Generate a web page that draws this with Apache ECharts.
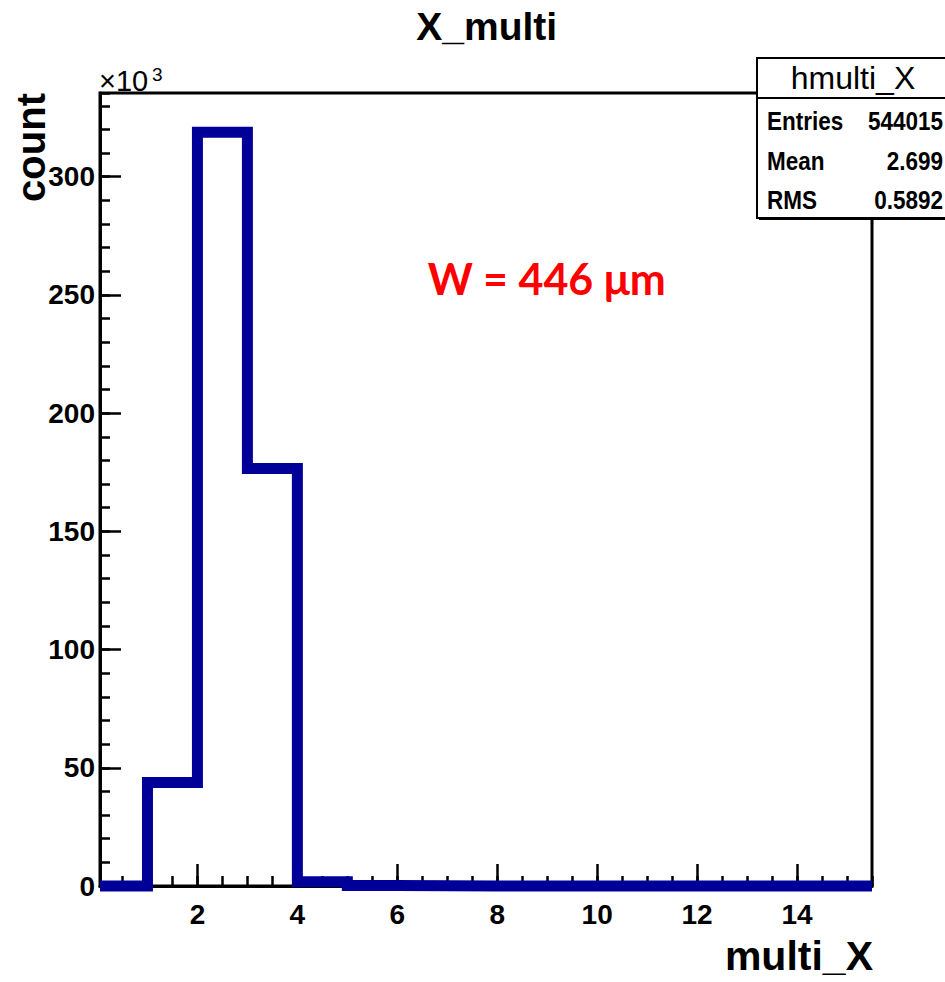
<!DOCTYPE html>
<html>
<head>
<meta charset="utf-8">
<script src="https://cdn.jsdelivr.net/npm/echarts@6/dist/echarts.min.js"></script>
<style>
html,body{margin:0;padding:0;background:#fff;}
#chart{width:945px;height:982px;}
</style>
</head>
<body>
<div id="chart"></div>
<script>
// ---- data (counts in units of 10^3) ----
const binLowEdges = [0, 1, 2, 3, 4, 5, 6, 7, 8, 9, 10, 11, 12, 13, 14, 15];
const binCounts   = [0, 43.8, 318.8, 176.6, 1.8, 0.2, 0.1, 0, 0, 0, 0, 0, 0, 0, 0, 0];
const xMin = 0.05, xMax = 15.5;
const yMin = 0, yMax = 335.4;
const xMajorTicks = [2, 4, 6, 8, 10, 12, 14];
const xMinorTicks = [0.5, 1, 1.5, 2, 2.5, 3, 3.5, 4, 4.5, 5, 5.5, 6, 6.5, 7, 7.5, 8, 8.5, 9, 9.5, 10, 10.5, 11, 11.5, 12, 12.5, 13, 13.5, 14, 14.5, 15, 15.5];
const statsRows = [["Entries", "544015"], ["Mean", "2.699"], ["RMS", "0.5892"]];

const FONT = "'Liberation Sans', Arial, sans-serif";

// histogram step line points
const histPts = binLowEdges.map((e, i) => [Math.max(e, xMin), binCounts[i]]);
histPts.push([xMax, binCounts[binCounts.length - 1]]);

const chart = echarts.init(document.getElementById('chart'), null, {renderer: 'svg'});

const G = {left: 100, top: 93, width: 772, height: 793};

// text helper: y is the visual centre of the text line
function txt(str, x, yc, size, weight, align, extra) {
  return Object.assign({
    type: 'text', x: x, y: yc, z: 30,
    style: {text: str, fill: '#000', font: (weight ? weight + ' ' : '') + size + 'px ' + FONT,
            align: align, verticalAlign: 'middle'}
  }, extra || {});
}

const rowCentres = [121, 161, 200];

const option = {
  animation: false,
  backgroundColor: '#fff',
  grid: {left: G.left, top: G.top, width: G.width, height: G.height, show: true,
         borderColor: '#000', borderWidth: 3, backgroundColor: 'transparent'},
  xAxis: [{
    type: 'value', min: xMin, max: xMax, position: 'bottom',
    axisLine: {show: true, onZero: false, lineStyle: {color: '#000', width: 3}},
    axisTick: {show: true, inside: true, length: 22, customValues: xMajorTicks, lineStyle: {color: '#000', width: 2.5}},
    axisLabel: {show: true, customValues: xMajorTicks, margin: 14, color: '#000',
                fontSize: 28, fontWeight: 'bold', fontFamily: FONT},
    splitLine: {show: false}
  }, {
    type: 'value', min: xMin, max: xMax, position: 'bottom',
    axisLine: {show: false, onZero: false},
    axisTick: {show: true, inside: true, length: 10, customValues: xMinorTicks, lineStyle: {color: '#000', width: 2.5}},
    axisLabel: {show: false},
    splitLine: {show: false}
  }],
  yAxis: [{
    type: 'value', min: yMin, max: yMax, interval: 50, position: 'left',
    axisLine: {show: true, onZero: false, lineStyle: {color: '#000', width: 3}},
    axisTick: {show: true, inside: true, length: 21, lineStyle: {color: '#000', width: 2.5}},
    axisLabel: {show: true, margin: 5, color: '#000', fontSize: 28, fontWeight: 'bold',
                fontFamily: FONT, showMaxLabel: false},
    splitLine: {show: false}
  }, {
    type: 'value', min: yMin, max: yMax, interval: 10, position: 'left',
    axisLine: {show: false, onZero: false},
    axisTick: {show: true, inside: true, length: 10, lineStyle: {color: '#000', width: 2.5}},
    axisLabel: {show: false},
    splitLine: {show: false}
  }],
  series: [{
    type: 'line', xAxisIndex: 0, yAxisIndex: 0,
    data: histPts, step: 'end', symbol: 'none', clip: false,
    lineStyle: {color: '#000099', width: 11, join: 'miter', cap: 'butt'},
    z: 1
  }],
  graphic: [
    txt('X_multi', 486.7, 26, 39, 'bold', 'center'),
    txt('multi_X', 873, 956, 41, 'bold', 'right'),
    {type: 'text', x: 31, y: 93, rotation: Math.PI / 2, z: 30,
     style: {text: 'count', fill: '#000', font: 'bold 40px ' + FONT, align: 'right', verticalAlign: 'middle'}},
    txt('×10', 99, 81, 29, '', 'left'),
    txt('3', 152, 74, 19, '', 'left'),
    {type: 'text', x: 546.7, y: 278, z: 30,
     style: {text: 'W = 446 μm', fill: '#ff0000', font: "bold 43px Lato, 'Open Sans', sans-serif",
             align: 'center', verticalAlign: 'middle'}},
    // stats box shadow + box
    {type: 'rect', z: 20, shape: {x: 759, y: 60, width: 200, height: 160}, style: {fill: '#000'}},
    {type: 'rect', z: 21, shape: {x: 757, y: 58, width: 200, height: 160}, style: {fill: '#fff', stroke: '#000', lineWidth: 2}},
    {type: 'line', z: 22, shape: {x1: 757, y1: 98, x2: 957, y2: 98}, style: {stroke: '#000', lineWidth: 2}},
    txt('hmulti_X', 853, 78, 32, '', 'center')
  ].concat(statsRows.flatMap((r, i) => [
    txt(r[0], 767, rowCentres[i], 25, 'bold', 'left', {scaleX: 0.9}),
    txt(r[1], 943, rowCentres[i], 25, 'bold', 'right', {scaleX: 0.9})
  ]))
};
chart.setOption(option);
</script>
</body>
</html>
